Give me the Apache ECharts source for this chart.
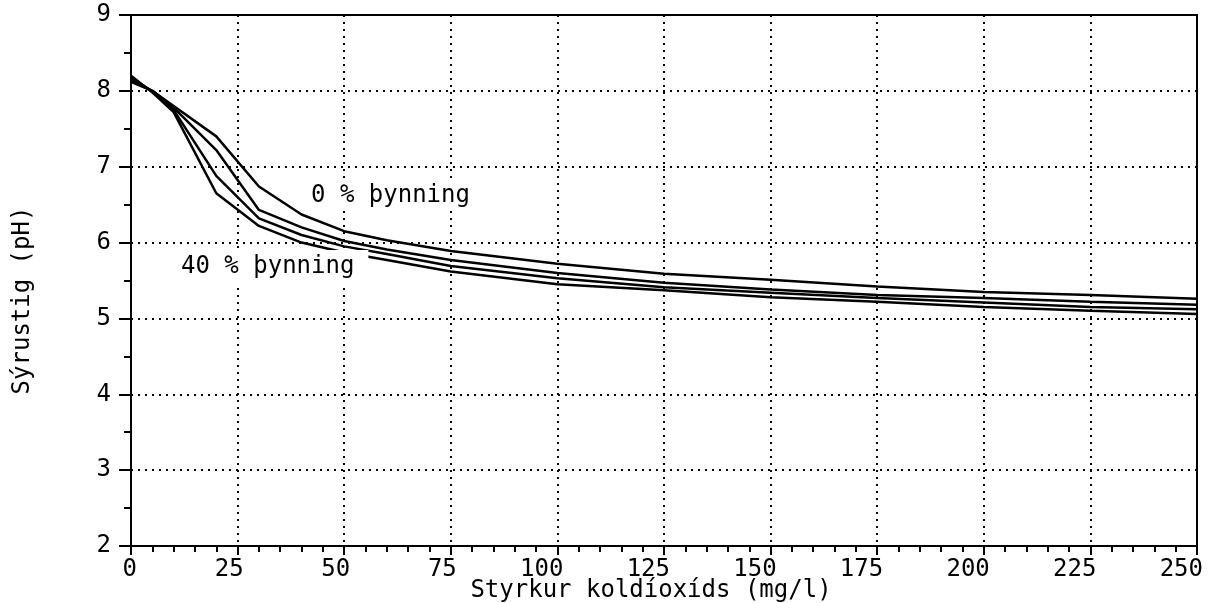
<!DOCTYPE html>
<html>
<head>
<meta charset="utf-8">
<script src="https://cdn.jsdelivr.net/npm/echarts@6/dist/echarts.min.js"></script>
<style>
html, body { margin: 0; padding: 0; background: #fff; }
#chart { width: 1219px; height: 603px; }
</style>
</head>
<body>
<div id="chart"></div>
<script>
// styrkur koldíoxíds (mg/l)
const co2 = [0, 5, 10, 20, 30, 40, 50, 60, 75, 100, 125, 150, 175, 200, 225, 250];
// sýrustig (pH) fyrir hverja þynningu
const ph0 = [8.12, 8.0, 7.8, 7.4, 6.74, 6.37, 6.15, 6.03, 5.89, 5.72, 5.59, 5.51, 5.42, 5.35, 5.31, 5.26];
const phB = [8.15, 8.0, 7.78, 7.22, 6.43, 6.2, 6.02, 5.91, 5.77, 5.6, 5.47, 5.38, 5.31, 5.27, 5.22, 5.18];
const phC = [8.18, 7.99, 7.75, 6.88, 6.32, 6.1, 5.95, 5.85, 5.69, 5.53, 5.41, 5.34, 5.27, 5.21, 5.15, 5.12];
const ph40 = [8.2, 7.98, 7.72, 6.65, 6.22, 6.0, 5.87, 5.77, 5.62, 5.45, 5.37, 5.28, 5.22, 5.15, 5.1, 5.06];

const FONT = 'DejaVu Sans Mono';
const FS = 24;

function pairs(ys) {
    return co2.map((x, i) => [x, ys[i]]);
}

function lineSeries(name, ys) {
    return {
        name: name,
        type: 'line',
        data: pairs(ys),
        symbol: 'none',
        lineStyle: { color: '#000', width: 2.5 },
        z: 3
    };
}

function buildOption() {
    const dotted = { color: '#000', width: 2, type: [2, 5] };
    const black2 = { color: '#000', width: 2 };

    return {
        animation: false,
        grid: {
            left: 131,
            right: 22,
            top: 15,
            bottom: 57,
            containLabel: false,
            outerBoundsMode: 'none',
            show: true,
            borderColor: '#000',
            borderWidth: 2
        },
        xAxis: {
            type: 'value',
            min: 0,
            max: 250,
            interval: 25,
            name: 'Styrkur koldíoxíds (mg/l)',
            nameLocation: 'middle',
            nameGap: 33,
            nameMoveOverlap: false,
            nameTextStyle: {
                fontFamily: FONT,
                fontSize: FS,
                color: '#000',
                padding: [0, 26, 0, 0]
            },
            axisLine: { lineStyle: black2 },
            axisTick: { length: 9, lineStyle: black2 },
            minorTick: { show: true, splitNumber: 5, length: 6, lineStyle: black2 },
            axisLabel: {
                fontFamily: FONT,
                fontSize: FS,
                color: '#000',
                margin: 12,
                align: 'right',
                padding: [0, -6, 0, 0]
            },
            splitLine: { show: true, lineStyle: dotted }
        },
        yAxis: {
            type: 'value',
            min: 2,
            max: 9,
            interval: 1,
            name: 'Sýrustig (pH)',
            nameLocation: 'middle',
            nameGap: 96,
            nameTextStyle: {
                fontFamily: FONT,
                fontSize: FS,
                color: '#000',
                padding: [0, 40, 0, 0]
            },
            axisLine: { show: true, lineStyle: black2 },
            axisTick: { show: true, length: 12, lineStyle: black2 },
            minorTick: { show: true, splitNumber: 2, length: 7, lineStyle: black2 },
            axisLabel: {
                fontFamily: FONT,
                fontSize: FS,
                color: '#000',
                margin: 20
            },
            splitLine: { show: true, lineStyle: dotted }
        },
        graphic: [
            {
                type: 'text',
                z: 100,
                x: 305,
                y: 196,
                style: {
                    text: '0 % þynning',
                    font: FS + 'px "' + FONT + '"',
                    fill: '#000',
                    textVerticalAlign: 'middle',
                    backgroundColor: '#fff',
                    padding: [4, 6, 1, 6]
                }
            },
            {
                type: 'text',
                z: 100,
                x: 175,
                y: 267,
                style: {
                    text: '40 % þynning',
                    font: FS + 'px "' + FONT + '"',
                    fill: '#000',
                    textVerticalAlign: 'middle',
                    backgroundColor: '#fff',
                    padding: [6, 14, 4, 6]
                }
            }
        ],
        series: [
            lineSeries('0 %', ph0),
            lineSeries('b', phB),
            lineSeries('c', phC),
            lineSeries('40 %', ph40)
        ]
    };
}

const chart = echarts.init(document.getElementById('chart'));
chart.setOption(buildOption());
</script>
</body>
</html>
